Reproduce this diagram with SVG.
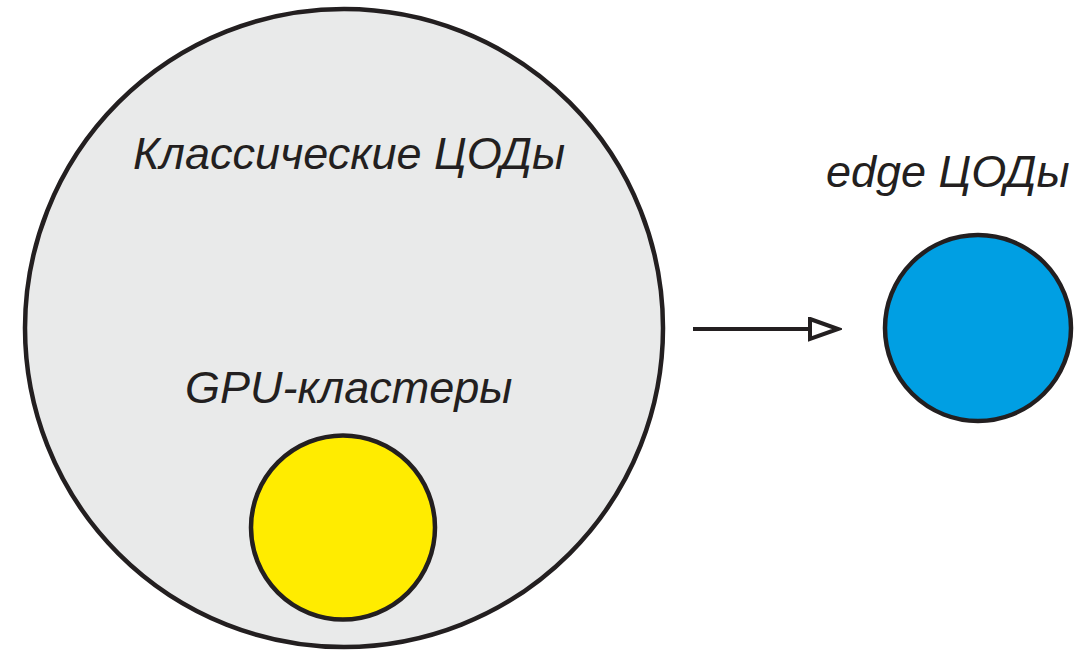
<svg xmlns="http://www.w3.org/2000/svg" width="1086" height="651" viewBox="0 0 1086 651">
  <style>
    .ring { stroke: #231f20; stroke-width: 4.5; }
    .label { font-family: "Liberation Sans", Arial, sans-serif; font-style: italic; font-size: 45px; fill: #231f20; }
    .conn { stroke: #231f20; stroke-width: 4; fill: none; }
  </style>
  <defs>
    <marker id="openHead" markerUnits="userSpaceOnUse" markerWidth="34" markerHeight="26" refX="2" refY="12" orient="auto">
      <path d="M2,2 L30,12 L2,22 Z" fill="#ffffff" stroke="#231f20" stroke-width="4" stroke-linejoin="miter"/>
    </marker>
  </defs>
  <rect width="1086" height="651" fill="#ffffff"/>

  <g id="classic-dc">
    <circle class="ring" cx="344" cy="328" r="319" fill="#e9eaea"/>
    <text class="label" x="133" y="169">Классические ЦОДы</text>
  </g>

  <g id="gpu-clusters">
    <text class="label" x="185" y="403">GPU-кластеры</text>
    <circle class="ring" cx="343" cy="527.5" r="92" fill="#ffec00"/>
  </g>

  <g id="edge-dc">
    <text class="label" x="826" y="187">edge ЦОДы</text>
    <circle class="ring" cx="978" cy="328" r="93" fill="#009fe3"/>
  </g>

  <g id="connectors">
    <line class="conn" x1="693" y1="329" x2="810" y2="329" marker-end="url(#openHead)"/>
  </g>
</svg>
